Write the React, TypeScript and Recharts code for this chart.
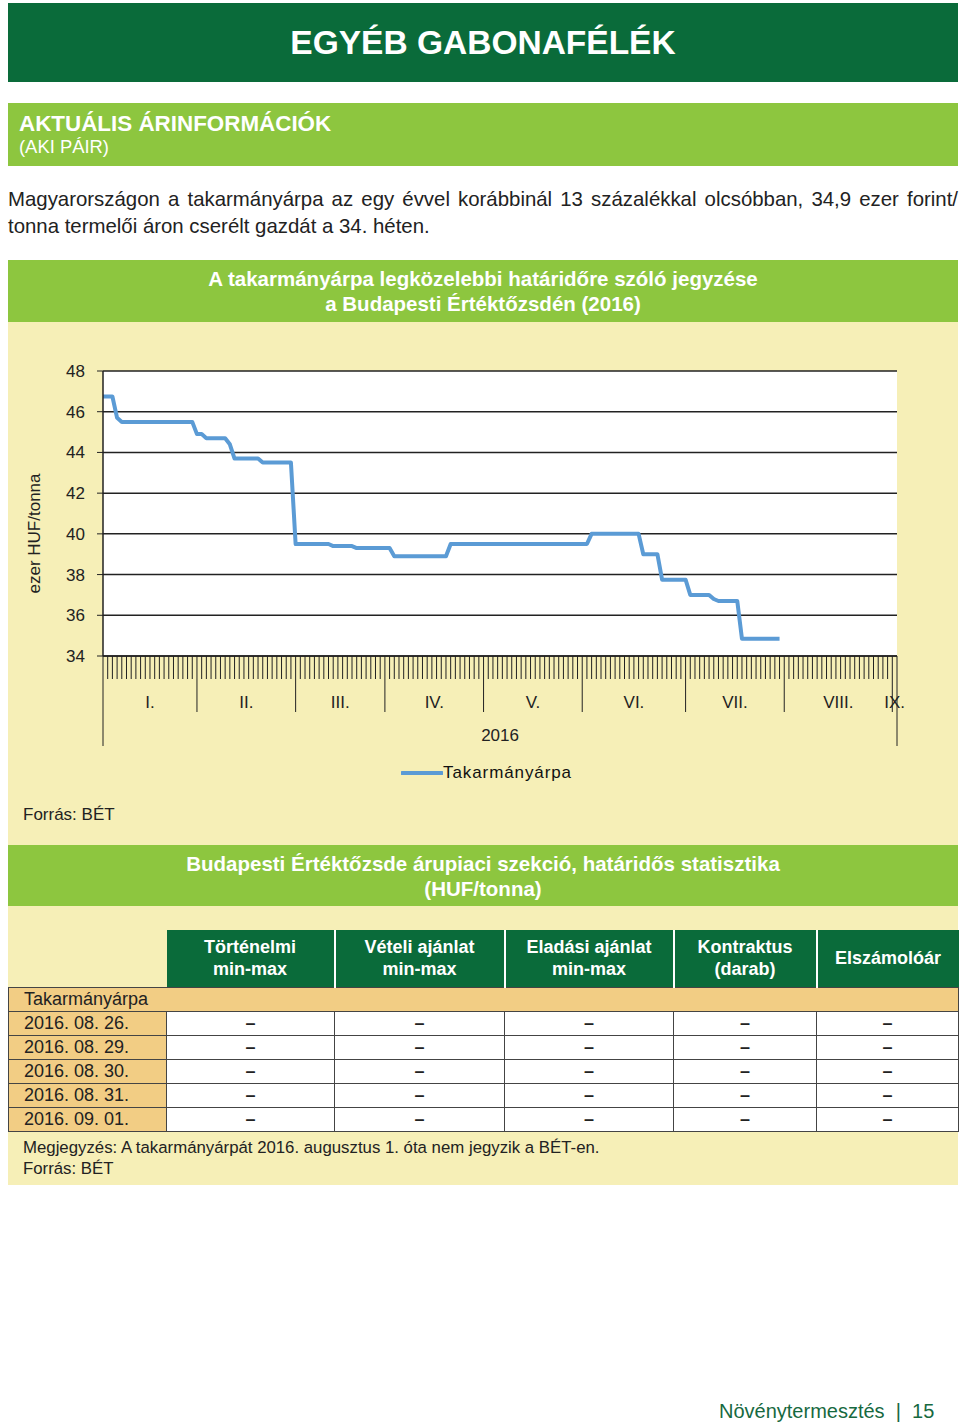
import { LineChart, Line, XAxis, YAxis, CartesianGrid, Legend } from 'recharts'

const FONT = "'Liberation Sans', Arial, Helvetica, sans-serif"
const DARK_GREEN = '#0a6b3a'
const LIGHT_GREEN = '#8dc63f'
const YELLOW = '#f6efb7'
const TAN = '#f2cd84'
const LINE_BLUE = '#5b9bd5'

// month labels on the x axis and the number of trading days in each
const MONTHS = ['I.', 'II.', 'III.', 'IV.', 'V.', 'VI.', 'VII.', 'VIII.', 'IX.']
const MONTH_DAYS = [20, 21, 19, 21, 21, 22, 21, 23, 1]
const YEAR_LABEL = '2016'
const Y_TICKS = [34, 36, 38, 40, 42, 44, 46, 48]

// daily quote, ezer HUF/tonna (no quotes from August on)
const PRICES = [
  // I.
  46.75, 46.75, 46.75, 45.7, 45.5, 45.5, 45.5, 45.5, 45.5, 45.5,
  45.5, 45.5, 45.5, 45.5, 45.5, 45.5, 45.5, 45.5, 45.5, 45.5,
  // II.
  44.9, 44.9, 44.7, 44.7, 44.7, 44.7, 44.7, 44.4, 43.7, 43.7,
  43.7, 43.7, 43.7, 43.7, 43.5, 43.5, 43.5, 43.5, 43.5, 43.5, 43.5,
  // III.
  39.5, 39.5, 39.5, 39.5, 39.5, 39.5, 39.5, 39.5, 39.4, 39.4,
  39.4, 39.4, 39.4, 39.3, 39.3, 39.3, 39.3, 39.3, 39.3,
  // IV.
  39.3, 39.3, 38.9, 38.9, 38.9, 38.9, 38.9, 38.9, 38.9, 38.9,
  38.9, 38.9, 38.9, 38.9, 39.5, 39.5, 39.5, 39.5, 39.5, 39.5, 39.5,
  // V.
  39.5, 39.5, 39.5, 39.5, 39.5, 39.5, 39.5, 39.5, 39.5, 39.5,
  39.5, 39.5, 39.5, 39.5, 39.5, 39.5, 39.5, 39.5, 39.5, 39.5, 39.5,
  // VI.
  39.5, 39.5, 40.0, 40.0, 40.0, 40.0, 40.0, 40.0, 40.0, 40.0,
  40.0, 40.0, 40.0, 39.0, 39.0, 39.0, 39.0, 37.75, 37.75, 37.75,
  37.75, 37.75,
  // VII.
  37.75, 37.0, 37.0, 37.0, 37.0, 37.0, 36.8, 36.7, 36.7, 36.7,
  36.7, 36.7, 34.85, 34.85, 34.85, 34.85, 34.85, 34.85, 34.85, 34.85,
  34.85,
]

const TABLE_HEAD = [
  ['Történelmi', 'min-max'],
  ['Vételi ajánlat', 'min-max'],
  ['Eladási ajánlat', 'min-max'],
  ['Kontraktus', '(darab)'],
  ['Elszámolóár'],
]
const TABLE_DATES = ['2016. 08. 26.', '2016. 08. 29.', '2016. 08. 30.', '2016. 08. 31.', '2016. 09. 01.']

const chartData = PRICES.map((p, i) => ({ day: i, price: p }))

const TOTAL_DAYS = MONTH_DAYS.reduce((a, b) => a + b, 0)
const MONTH_STARTS: number[] = []
MONTH_DAYS.reduce((acc, d) => {
  MONTH_STARTS.push(acc)
  return acc + d
}, 0)

const DAY_TICKS = Array.from({ length: TOTAL_DAYS + 1 }, (_, i) => i)
// label ticks sit a hair off the integer day ticks so they never collide
const LABEL_TICKS = new Map<number, { text: string; row: number }>()
MONTHS.forEach((m, i) => {
  LABEL_TICKS.set(MONTH_STARTS[i] + MONTH_DAYS[i] / 2 + 0.01, { text: m, row: 0 })
})
LABEL_TICKS.set(TOTAL_DAYS / 2 + 0.01, { text: YEAR_LABEL, row: 1 })
const X_TICKS = [...DAY_TICKS, ...LABEL_TICKS.keys()]

function DayAxisTick({ x, y, payload }: any) {
  const v = payload.value as number
  if (Number.isInteger(v)) {
    let len = 23
    if (v === 0 || v === TOTAL_DAYS) len = 90
    else if (MONTH_STARTS.includes(v)) len = 56
    return <line x1={x} y1={y} x2={x} y2={y + len} stroke="#222" strokeWidth={1} />
  }
  const lbl = LABEL_TICKS.get(v)
  if (!lbl) return null
  return (
    <text
      x={x}
      y={y + (lbl.row === 0 ? 46 : 79)}
      textAnchor="middle"
      dominantBaseline="central"
      fontSize={17}
      fill="#222"
      fontFamily={FONT}
    >
      {lbl.text}
    </text>
  )
}

function YTitle({ viewBox }: any) {
  if (!viewBox) return null
  const cx = viewBox.x + 26
  const cy = viewBox.y + viewBox.height / 2 + 20
  return (
    <text
      x={cx}
      y={cy}
      transform={`rotate(-90 ${cx} ${cy})`}
      textAnchor="middle"
      dominantBaseline="central"
      fontSize={17}
      fill="#222"
      fontFamily={FONT}
    >
      ezer HUF/tonna
    </text>
  )
}

function LegendBox() {
  return (
    <div style={{ height: 30, display: 'flex', alignItems: 'center', justifyContent: 'center', paddingLeft: 68, paddingTop: 4, boxSizing: 'border-box' }}>
      <svg width={42} height={10}>
        <line x1={1} y1={5} x2={41} y2={5} stroke={LINE_BLUE} strokeWidth={4} strokeLinecap="round" />
      </svg>
      <span style={{ fontSize: 17, color: '#111', letterSpacing: 0.9, fontFamily: FONT }}>Takarmányárpa</span>
    </div>
  )
}

function PriceChart() {
  return (
    <LineChart width={950} height={475} data={chartData} margin={{ top: 49, right: 61, left: 0, bottom: 11 }}>
      <CartesianGrid vertical={false} stroke="#222" strokeWidth={1.5} fill="#ffffff" />
      <XAxis
        dataKey="day"
        type="number"
        domain={[0, TOTAL_DAYS]}
        ticks={X_TICKS}
        interval={0}
        tickLine={false}
        tickSize={0}
        tickMargin={0}
        height={100}
        axisLine={{ stroke: '#222', strokeWidth: 1.5 }}
        tick={<DayAxisTick />}
      />
      <YAxis
        type="number"
        domain={[34, 48]}
        ticks={Y_TICKS}
        interval={0}
        width={95}
        tickSize={6}
        tickMargin={12}
        axisLine={{ stroke: '#222', strokeWidth: 1.5 }}
        tickLine={{ stroke: '#222' }}
        tick={{ fontSize: 17, fill: '#222', fontFamily: FONT }}
        label={<YTitle />}
      />
      <Legend verticalAlign="bottom" height={30} content={<LegendBox />} />
      <Line
        type="linear"
        dataKey="price"
        name="Takarmányárpa"
        stroke={LINE_BLUE}
        strokeWidth={4}
        dot={false}
        strokeLinejoin="round"
        isAnimationActive={false}
      />
    </LineChart>
  )
}

const cellBorder = '1px solid #444'

export default function App() {
  return (
    <div
      style={{
        position: 'absolute',
        left: 0,
        top: 0,
        width: 960,
        height: 1425,
        background: '#fff',
        fontFamily: FONT,
        color: '#222',
      }}
    >
      {/* page header */}
      <div
        style={{
          position: 'absolute', left: 8, top: 3, width: 950, height: 79, background: DARK_GREEN,
          display: 'flex', alignItems: 'center', justifyContent: 'center',
        }}
      >
        <span style={{ color: '#fff', fontSize: 33.5, fontWeight: 'bold' }}>EGYÉB GABONAFÉLÉK</span>
      </div>

      <div style={{ position: 'absolute', left: 8, top: 103, width: 950, height: 63, background: LIGHT_GREEN }}>
        <div style={{ position: 'absolute', left: 11, top: 8, lineHeight: '26px', fontSize: 22.4, fontWeight: 'bold', color: '#fff' }}>
          AKTUÁLIS ÁRINFORMÁCIÓK
        </div>
        <div style={{ position: 'absolute', left: 11, top: 33, lineHeight: '22px', fontSize: 18.4, color: '#fff' }}>
          (AKI PÁIR)
        </div>
      </div>

      <div style={{ position: 'absolute', left: 8, top: 186, width: 950, fontSize: 20.4, lineHeight: '27px', color: '#222' }}>
        <div style={{ textAlign: 'justify', textAlignLast: 'justify', whiteSpace: 'nowrap' }}>
          Magyarországon a takarmányárpa az egy évvel korábbinál 13 százalékkal olcsóbban, 34,9 ezer forint/
        </div>
        <div>tonna termelői áron cserélt gazdát a 34. héten.</div>
      </div>

      {/* chart block */}
      <div
        style={{
          position: 'absolute', left: 8, top: 260, width: 950, height: 62, background: LIGHT_GREEN,
          color: '#fff', fontWeight: 'bold', fontSize: 20.5, lineHeight: '25px', textAlign: 'center',
          boxSizing: 'border-box', paddingTop: 6,
        }}
      >
        <div>A takarmányárpa legközelebbi határidőre szóló jegyzése</div>
        <div>a Budapesti Értéktőzsdén (2016)</div>
      </div>
      <div style={{ position: 'absolute', left: 8, top: 322, width: 950, height: 523, background: YELLOW }}>
        <PriceChart />
        <div style={{ position: 'absolute', left: 15, top: 482, fontSize: 17, lineHeight: '22px', color: '#222' }}>
          Forrás: BÉT
        </div>
      </div>

      {/* table block */}
      <div
        style={{
          position: 'absolute', left: 8, top: 845, width: 950, height: 61, background: LIGHT_GREEN,
          color: '#fff', fontWeight: 'bold', fontSize: 20.5, lineHeight: '25px', textAlign: 'center',
          boxSizing: 'border-box', paddingTop: 6,
        }}
      >
        <div>Budapesti Értéktőzsde árupiaci szekció, határidős statisztika</div>
        <div>(HUF/tonna)</div>
      </div>
      <div style={{ position: 'absolute', left: 8, top: 906, width: 950, height: 279, background: YELLOW }}>
        <table
          style={{
            position: 'absolute', left: 0, top: 24, width: 950, borderCollapse: 'collapse', tableLayout: 'fixed',
            fontSize: 18, color: '#222',
          }}
        >
          <colgroup>
            <col style={{ width: 158 }} />
            <col style={{ width: 168 }} />
            <col style={{ width: 170 }} />
            <col style={{ width: 169 }} />
            <col style={{ width: 143 }} />
            <col style={{ width: 142 }} />
          </colgroup>
          <tbody>
            <tr style={{ height: 57 }}>
              <td />
              {TABLE_HEAD.map((h, i) => (
                <td
                  key={i}
                  style={{
                    background: DARK_GREEN, color: '#fff', fontWeight: 'bold', textAlign: 'center',
                    lineHeight: '22px', padding: 0, borderLeft: i > 0 ? '2px solid #fff' : 'none',
                  }}
                >
                  {h.map((t, j) => (
                    <div key={j}>{t}</div>
                  ))}
                </td>
              ))}
            </tr>
            <tr style={{ height: 24 }}>
              <td colSpan={6} style={{ background: TAN, border: cellBorder, padding: '0 0 0 15px', lineHeight: '22px' }}>
                Takarmányárpa
              </td>
            </tr>
            {TABLE_DATES.map((d) => (
              <tr key={d} style={{ height: 24 }}>
                <td style={{ background: TAN, border: cellBorder, padding: '0 0 0 15px', lineHeight: '22px' }}>{d}</td>
                {TABLE_HEAD.map((_, i) => (
                  <td
                    key={i}
                    style={{ background: '#fff', border: cellBorder, textAlign: 'center', lineHeight: '22px', padding: 0, fontWeight: 'bold' }}
                  >
                    –
                  </td>
                ))}
              </tr>
            ))}
          </tbody>
        </table>
        <div style={{ position: 'absolute', left: 15, top: 231, fontSize: 16.8, lineHeight: '21px', color: '#222' }}>
          <div>Megjegyzés: A takarmányárpát 2016. augusztus 1. óta nem jegyzik a BÉT-en.</div>
          <div>Forrás: BÉT</div>
        </div>
      </div>

      <div style={{ position: 'absolute', left: 719, top: 1399, fontSize: 20, lineHeight: '24px', color: '#17693f', whiteSpace: 'pre' }}>
        {'Növénytermesztés  |  15'}
      </div>
    </div>
  )
}
